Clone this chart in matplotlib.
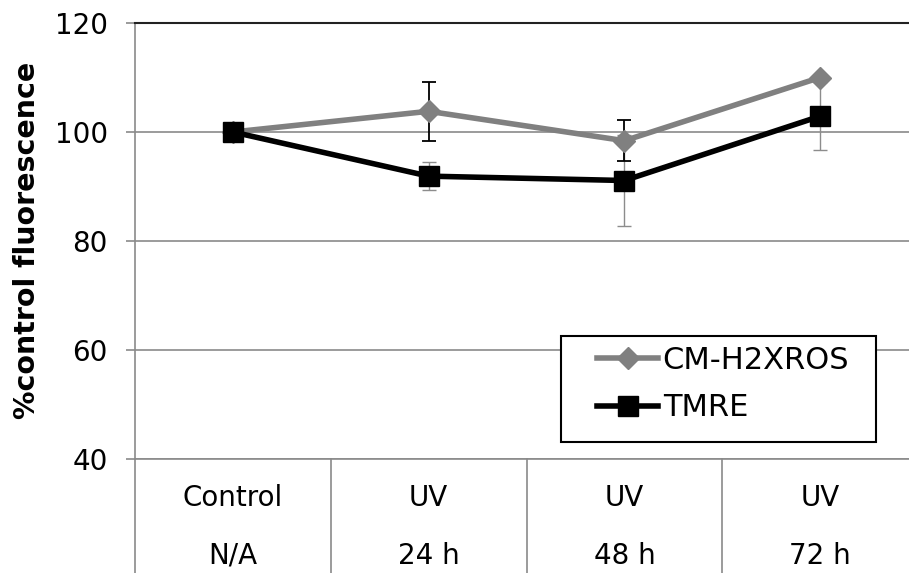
import matplotlib
matplotlib.use("Agg")
import matplotlib.pyplot as plt
from matplotlib.patches import Rectangle
import matplotlib.transforms as mtransforms

# ---- data ----
row1_labels = ["Control", "UV", "UV", "UV"]
row2_labels = ["N/A", "24 h", "48 h", "72 h"]
cm_values = [100.0, 103.8, 98.4, 110.0]
cm_errors = [0.0, 5.4, 3.75, 0.5]
tmre_values = [100.0, 91.9, 91.1, 102.9]
tmre_errors = [0.0, 2.55, 8.35, 6.2]
yticks = [40, 60, 80, 100, 120]

W, H = 909, 573
fig = plt.figure(figsize=(W / 100, H / 100), dpi=100)
L, R, T, B = 135, 918, 23, 459
ax = fig.add_axes([L / W, 1 - B / H, (R - L) / W, (B - T) / H])

x = list(range(len(row1_labels)))
gray = "#808080"
grid_c = "#8a8a8a"

# error bars
ax.errorbar(x, tmre_values, yerr=tmre_errors, fmt="none", ecolor="#8c8c8c",
            elinewidth=1.0, capsize=5, capthick=1.0, zorder=2)
ax.errorbar(x, cm_values, yerr=cm_errors, fmt="none", ecolor="black",
            elinewidth=1.3, capsize=5, capthick=1.3, zorder=2.5)

# lines
ax.plot(x, cm_values, color=gray, lw=4, marker="D", ms=11, mec=gray, mfc=gray,
        label="CM-H2XROS", zorder=3)
ax.plot(x, tmre_values, color="black", lw=4, marker="s", ms=14.5, mec="black",
        mfc="black", label="TMRE", zorder=4)

ax.set_xlim(-0.5, len(x) - 0.5)
ax.set_ylim(40, 120)
ax.set_yticks(yticks)
ax.set_xticks([])
ax.yaxis.grid(True, color=grid_c, lw=1.2)
ax.set_axisbelow(True)

ax.spines["right"].set_visible(False)
ax.spines["top"].set_color("#222222")
ax.spines["top"].set_linewidth(1.5)
ax.spines["bottom"].set_color(grid_c)
ax.spines["bottom"].set_linewidth(1.2)
ax.spines["left"].set_color(grid_c)
ax.spines["left"].set_linewidth(1.2)

ax.tick_params(axis="y", direction="out", length=6.5, width=1.2, color=grid_c,
               labelsize=20, pad=13)

# category table below
trans = mtransforms.blended_transform_factory(ax.transData, ax.transAxes)
ybot = -(H - B) / (B - T)
for b in [-0.5, 0.5, 1.5, 2.5]:
    ax.plot([b, b], [0, ybot], transform=trans, color=grid_c, lw=1.2,
            clip_on=False)
r1 = (B - 498) / (B - T)
r2 = (B - 556) / (B - T)
for i in x:
    ax.text(i, r1, row1_labels[i], transform=trans, ha="center", va="center",
            fontsize=20)
    ax.text(i, r2, row2_labels[i], transform=trans, ha="center", va="center",
            fontsize=20)

# y label
fig.text(27 / W, 1 - 240 / H, "%control fluorescence", rotation=90,
         ha="center", va="center", fontsize=20.5, fontweight="bold")

# legend box
bx0, by0, bx1, by1 = 561, 336, 876, 442
ax.add_patch(Rectangle(((bx0 - L) / (R - L), (B - by1) / (B - T)),
                       (bx1 - bx0) / (R - L), (by1 - by0) / (B - T),
                       transform=ax.transAxes, facecolor="white",
                       edgecolor="black", lw=1.5, zorder=6, clip_on=False))
leg = ax.legend(loc="upper left",
                bbox_to_anchor=((597 - L) / (R - L), (B - 346) / (B - T)),
                frameon=False, fontsize=22, handlelength=2.0,
                handletextpad=0.15, borderpad=0, borderaxespad=0,
                labelspacing=0.6)
leg.set_zorder(7)

fig.savefig("out.png", dpi=100)
